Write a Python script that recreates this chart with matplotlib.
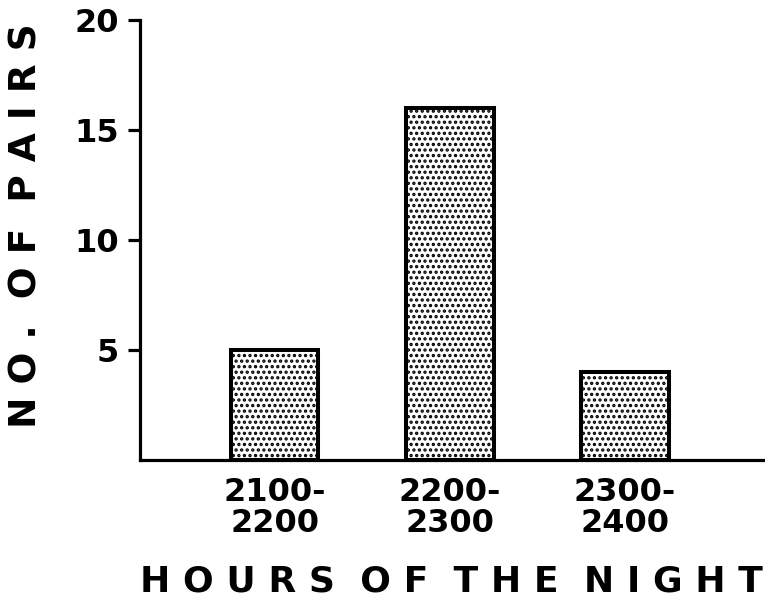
import matplotlib
matplotlib.use("Agg")
import matplotlib.pyplot as plt

categories = ["2100-\n2200", "2200-\n2300", "2300-\n2400"]
pairs = [5, 16, 4]
yticks = [5, 10, 15, 20]
xlabel = "H O U R S  O F  T H E  N I G H T"
ylabel = "N O .  O F  P A I R S"

plt.rcParams['font.family'] = ['DejaVu Sans']
plt.rcParams['hatch.linewidth'] = 1.6
plt.rcParams['hatch.color'] = 'black'

W, H = 765, 598
fig = plt.figure(figsize=(W / 100, H / 100), dpi=100)
ax = fig.add_axes([140 / W, 1 - 460 / H, (W - 140) / W, (460 - 20) / H])

x = list(range(len(categories)))
ax.bar(x, pairs, width=0.5, color='white', edgecolor='black', linewidth=2.9,
       hatch='...', zorder=2)

ax.set_xlim(-0.769, 2.80)
ax.set_ylim(0, 20)
ax.set_yticks(yticks)
ax.set_yticklabels([str(v) for v in yticks], fontsize=23, fontweight='bold')
ax.set_xticks(x)
ax.set_xticklabels(categories, fontsize=23, fontweight='bold', linespacing=1.0)
ax.tick_params(axis='y', direction='out', length=9, width=2.3, pad=6)
ax.tick_params(axis='x', length=0, pad=12)

for s in ['top', 'right']:
    ax.spines[s].set_visible(False)
for s in ['left', 'bottom']:
    ax.spines[s].set_linewidth(2.3)

fig.text(451 / W, 1 - 581 / H, xlabel, ha='center', va='center',
         fontsize=26, fontweight='bold')
fig.text(27 / W, 1 - 226 / H, ylabel, ha='center', va='center',
         rotation=90, fontsize=27, fontweight='bold')

fig.savefig("out.png", dpi=100)
